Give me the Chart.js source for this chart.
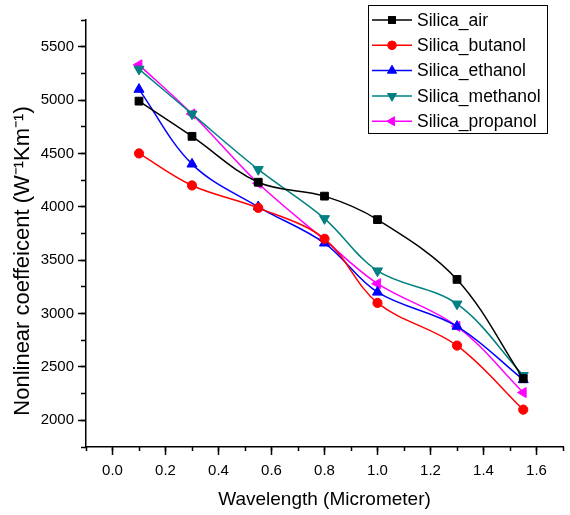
<!DOCTYPE html>
<html>
<head>
<meta charset="utf-8">
<script src="https://cdn.jsdelivr.net/npm/chart.js@4/dist/chart.umd.min.js"></script>
<style>
  html, body { margin: 0; padding: 0; background: #fff; }
  #wrap { width: 570px; height: 515px; }
</style>
</head>
<body>
<div id="wrap"><canvas id="myChart" width="570" height="515"></canvas></div>
<script>
// wavelength in micrometer
var wavelength = [0.1, 0.3, 0.55, 0.8, 1.0, 1.3, 1.55];

var silica_air      = [4990, 4660, 4230, 4100, 3880, 3320, 2390];
var silica_butanol  = [4500, 4200, 3990, 3700, 3100, 2700, 2100];
var silica_ethanol  = [5100, 4400, 4000, 3660, 3200, 2880, 2380];
var silica_methanol = [5290, 4870, 4350, 3890, 3400, 3090, 2420];
var silica_propanol = [5330, 4870, 4220, 3690, 3280, 2880, 2260];

var series_names = ['Silica_air', 'Silica_butanol', 'Silica_ethanol', 'Silica_methanol', 'Silica_propanol'];

var FONT = "'Liberation Sans', Arial, sans-serif";

function points(values) {
    return wavelength.map((x, i) => ({ x: x, y: values[i] }));
}

function makeSet(label, values, color, style, rot, radius) {
    return {
        label: label,
        data: points(values),
        borderColor: color,
        backgroundColor: color,
        borderWidth: 1.5,
        pointStyle: style,
        rotation: rot,
        pointRadius: radius,
        pointHoverRadius: radius,
        pointBorderWidth: 1,
        tension: 0.35,
        fill: false
    };
}

// legend drawn as a boxed key in the upper right, like the original
const boxLegend = {
    id: 'boxLegend',
    afterDraw(chart) {
        const ctx = chart.ctx;
        const left = 368, top = 5, w = 179, h = 128;
        ctx.save();
        ctx.strokeStyle = '#000';
        ctx.lineWidth = 1;
        ctx.strokeRect(left + 0.5, top + 0.5, w, h);
        chart.data.datasets.forEach((ds, i) => {
            const y = 20 + i * 25.3;
            ctx.strokeStyle = ds.borderColor;
            ctx.lineWidth = 1.5;
            ctx.beginPath();
            ctx.moveTo(372, y);
            ctx.lineTo(412, y);
            ctx.stroke();
            ctx.fillStyle = ds.backgroundColor;
            Chart.helpers.drawPoint(ctx, {
                pointStyle: ds.pointStyle,
                rotation: ds.rotation,
                radius: ds.pointRadius,
                borderWidth: 0
            }, 392, y);
            ctx.fill();
            ctx.fillStyle = '#000';
            ctx.font = '17.5px ' + FONT;
            ctx.textBaseline = 'middle';
            ctx.textAlign = 'left';
            ctx.fillText(ds.label, 417, y + 1);
        });
        ctx.restore();
    }
};

// major ticks: long, only where a label sits
function majorTick(ctx) {
    return ctx.tick && ctx.tick.label !== '' ? '#000' : 'rgba(0,0,0,0)';
}

const ctx = document.getElementById('myChart').getContext('2d');
const myChart = new Chart(ctx, {
    type: 'line',
    data: {
        datasets: [
            makeSet(series_names[0], silica_air, '#000000', 'rect', 0, 5.5),
            makeSet(series_names[1], silica_butanol, '#ff0000', 'circle', 0, 4.6),
            makeSet(series_names[2], silica_ethanol, '#0000ff', 'triangle', 0, 5.8),
            makeSet(series_names[3], silica_methanol, '#008080', 'triangle', 180, 5.8),
            makeSet(series_names[4], silica_propanol, '#ff00ff', 'triangle', 270, 5.8)
        ]
    },
    plugins: [boxLegend],
    options: {
        responsive: false,
        animation: false,
        layout: { padding: { top: 20, right: 0, bottom: 0, left: 0 } },
        plugins: {
            legend: { display: false },
            tooltip: { enabled: false }
        },
        scales: {
            x: {
                type: 'linear',
                min: -0.1,
                max: 1.7,
                afterFit: scale => { scale.height = 68; },
                border: { color: '#000', width: 1.5 },
                grid: { drawOnChartArea: false, color: '#000', tickColor: majorTick, tickLength: 8, tickWidth: 1.5 },
                ticks: {
                    stepSize: 0.1,
                    autoSkip: false,
                    maxRotation: 0,
                    padding: 7,
                    color: '#000',
                    font: { family: FONT, size: 15 },
                    callback: v => {
                        const k = Math.round(v * 10);
                        return (k >= 0 && k % 2 === 0 && k <= 16) ? (k / 10).toFixed(1) : '';
                    }
                },
                title: {
                    display: true,
                    text: 'Wavelength (Micrometer)',
                    color: '#000',
                    font: { family: FONT, size: 19 },
                    padding: { top: 0, bottom: 3.5 }
                }
            },
            xMinor: {
                type: 'linear',
                position: 'bottom',
                weight: -1,
                min: -0.1,
                max: 1.7,
                afterFit: scale => { scale.height = 0; },
                border: { display: false },
                grid: { drawOnChartArea: false, tickColor: '#000', tickLength: 4, tickWidth: 1.5 },
                ticks: { stepSize: 0.1, autoSkip: false, display: false }
            },
            y: {
                min: 1750,
                max: 5750,
                afterFit: scale => { scale.width = 86; },
                border: { color: '#000', width: 1.5 },
                grid: { drawOnChartArea: false, color: '#000', tickColor: majorTick, tickLength: 8, tickWidth: 1.5 },
                ticks: {
                    stepSize: 250,
                    autoSkip: false,
                    padding: 4,
                    color: '#000',
                    font: { family: FONT, size: 15 },
                    callback: v => (v % 500 === 0 ? String(v) : '')
                },
                title: {
                    display: true,
                    text: 'Nonlinear coeffeicent (W\u207B\u00B9Km\u207B\u00B9)\u2003\u2003\u2002',
                    color: '#000',
                    font: { family: FONT, size: 22 },
                    padding: { top: 10, bottom: 0 }
                }
            },
            yMinor: {
                type: 'linear',
                position: 'left',
                weight: -1,
                min: 1750,
                max: 5750,
                afterFit: scale => { scale.width = 0; },
                border: { display: false },
                grid: { drawOnChartArea: false, tickColor: '#000', tickLength: 5, tickWidth: 1.5 },
                ticks: { stepSize: 250, autoSkip: false, display: false }
            }
        }
    }
});
</script>
</body>
</html>
